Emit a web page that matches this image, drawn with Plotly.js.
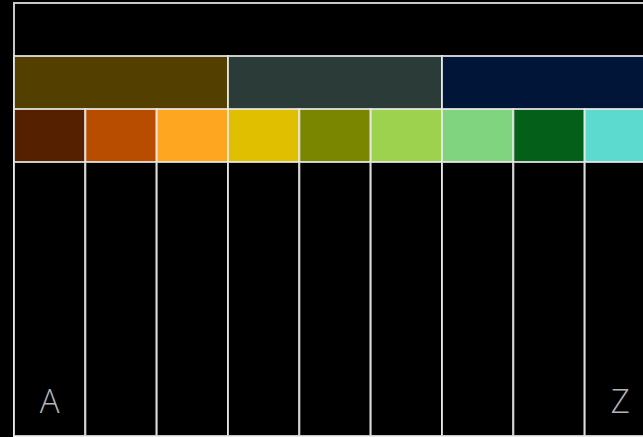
<!DOCTYPE html>
<html>
<head>
<meta charset="utf-8">
<script src="https://cdn.plot.ly/plotly-3.0.1.min.js"></script>
<style>
html,body{margin:0;padding:0;background:#000;overflow:hidden;}
#chart{width:660px;height:437px;}
</style>
</head>
<body>
<div id="chart"></div>
<script>
// Hierarchy data
const rootId = 'root';
const groupIds = ['G1', 'G2', 'G3'];
const groupColors = ['#533F00', '#2A3B38', '#001538'];
const subIds = ['S1', 'S2', 'S3', 'S4', 'S5', 'S6', 'S7', 'S8', 'S9'];
const subParents = ['G1', 'G1', 'G1', 'G2', 'G2', 'G2', 'G3', 'G3', 'G3'];
const subColors = ['#552000', '#B84D00', '#FFA620', '#E0BF00', '#7A8500', '#9DD24F', '#80D47F', '#045F18', '#5CDAD0'];
const leafIds = ['L1', 'L2', 'L3', 'L4', 'L5', 'L6', 'L7', 'L8', 'L9'];
const leafText = ['A', '', '', '', '', '', '', '', 'Z'];
const leafValues = [1, 1, 1, 1, 1, 1, 1, 1, 1];

const ids = [rootId].concat(groupIds, subIds, leafIds);
const parents = [''].concat(groupIds.map(() => rootId), subParents, subIds);
const values = [0].concat(groupIds.map(() => 0), subIds.map(() => 0), leafValues);
const colors = ['#000000'].concat(groupColors, subColors, leafIds.map(() => '#000000'));
const leafDisplay = leafText.map(t => t ? ("<span style='font-size:33px'>" + t + "</span><br>&nbsp;") : '');
const texts = [''].concat(groupIds.map(() => ''), subIds.map(() => ''), leafDisplay);

const trace = {
  type: 'treemap',
  ids: ids,
  labels: ids,
  parents: parents,
  values: values,
  text: texts,
  textinfo: 'text',
  texttemplate: '%{text}',
  textposition: 'bottom center',
  branchvalues: 'remainder',
  sort: false,
  tiling: {packing: 'dice', pad: 0},
  pathbar: {visible: false},
  marker: {
    colors: colors,
    line: {color: 'rgba(235,235,235,0.85)', width: 2},
    pad: {t: 53, l: 0, r: 0, b: 0}
  },
  textfont: {family: 'Open Sans', size: 12, weight: 300, color: '#b4b4b4'},
  hoverinfo: 'none'
};

const layout = {
  width: 660,
  height: 437,
  margin: {l: 13.5, r: 3.5, t: 3, b: 1},
  paper_bgcolor: '#000000',
  plot_bgcolor: '#000000',
  showlegend: false
};

Plotly.newPlot('chart', [trace], layout, {displayModeBar: false, staticPlot: true});
</script>
</body>
</html>
